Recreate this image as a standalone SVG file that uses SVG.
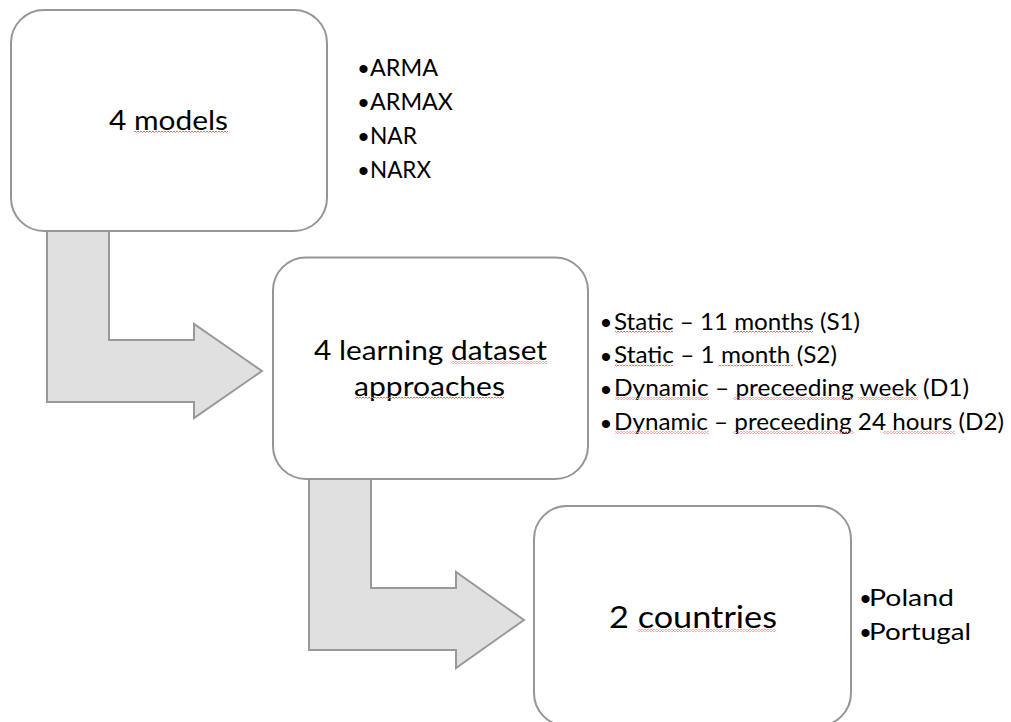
<svg xmlns="http://www.w3.org/2000/svg" width="1011" height="722" viewBox="0 0 1011 722">
  <defs>
    <!-- red wavy proofing underline -->
    <pattern id="squiggle" x="0" y="0" width="3" height="2" patternUnits="userSpaceOnUse">
      <rect x="0" y="1" width="1" height="1" fill="#ee6b6b"/>
      <rect x="1" y="0" width="1" height="1" fill="#f4a0a0"/>
      <rect x="2" y="1" width="1" height="1" fill="#ee6b6b"/>
    </pattern>
    <style>
      .box { fill: #ffffff; stroke: #969696; stroke-width: 2; }
      .arrow { fill: #e0e0e0; stroke: #999999; stroke-width: 2; stroke-linejoin: miter; }
      .title { font-family: Lato, "Liberation Sans", sans-serif; fill: #000000; }
      .item { font-family: Lato, "Liberation Sans", sans-serif; font-size: 23px; fill: #000000; }
      .bullet { font-family: "Liberation Sans", Arial, sans-serif; font-size: 30px; fill: #000000; text-anchor: middle; }
      .spell { fill: url(#squiggle); }
    </style>
  </defs>

  <!-- bent block arrows between the stages -->
  <g id="connectors">
    <polygon class="arrow" points="47,226 109,226 109,340 194,340 194,324 262,371 194,418 194,402 47,402"/>
    <polygon class="arrow" points="309,474 371,474 371,588 456,588 456,572 524,620 456,668 456,650 309,650"/>
  </g>

  <!-- stage 1 -->
  <g id="node-models">
    <rect class="box" x="11" y="10" width="316" height="221" rx="33" ry="33"/>
    <text class="title" x="109" y="130" font-size="27" textLength="119" lengthAdjust="spacingAndGlyphs">4 models</text>
    <rect class="spell" x="134" y="131" width="94" height="2"/>
  </g>
  <g id="list-models">
    <text class="bullet" x="363.5" y="79">•</text>
    <text class="item" x="370" y="76" textLength="68" lengthAdjust="spacingAndGlyphs">ARMA</text>
    <text class="bullet" x="363.5" y="113">•</text>
    <text class="item" x="370" y="110" textLength="83" lengthAdjust="spacingAndGlyphs">ARMAX</text>
    <text class="bullet" x="363.5" y="147">•</text>
    <text class="item" x="370" y="144" textLength="47" lengthAdjust="spacingAndGlyphs">NAR</text>
    <text class="bullet" x="363.5" y="181">•</text>
    <text class="item" x="370" y="178" textLength="61" lengthAdjust="spacingAndGlyphs">NARX</text>
  </g>

  <!-- stage 2 -->
  <g id="node-approaches">
    <rect class="box" x="273" y="257.5" width="315" height="221.5" rx="33" ry="33"/>
    <text class="title" x="314" y="360" font-size="27" textLength="233" lengthAdjust="spacingAndGlyphs">4 learning dataset</text>
    <text class="title" x="354" y="395.5" font-size="27" textLength="151" lengthAdjust="spacingAndGlyphs">approaches</text>
    <rect class="spell" x="451" y="361.5" width="96" height="2"/>
    <rect class="spell" x="355" y="397" width="149" height="2"/>
  </g>
  <g id="list-approaches">
    <text class="bullet" x="606" y="333">•</text>
    <text class="item" x="614" y="329.5" textLength="246" lengthAdjust="spacingAndGlyphs">Static – 11 months (S1)</text>
    <text class="bullet" x="606" y="366.5">•</text>
    <text class="item" x="614" y="363" textLength="223" lengthAdjust="spacingAndGlyphs">Static – 1 month (S2)</text>
    <text class="bullet" x="606" y="399.5">•</text>
    <text class="item" x="614" y="396" textLength="355" lengthAdjust="spacingAndGlyphs">Dynamic – preceeding week (D1)</text>
    <text class="bullet" x="606" y="433.5">•</text>
    <text class="item" x="614" y="430" textLength="390" lengthAdjust="spacingAndGlyphs">Dynamic – preceeding 24 hours (D2)</text>
    <rect class="spell" x="615" y="331" width="58" height="2"/>
    <rect class="spell" x="733" y="331" width="80" height="2"/>
    <rect class="spell" x="615" y="364.5" width="58" height="2"/>
    <rect class="spell" x="718" y="364.5" width="75" height="2"/>
    <rect class="spell" x="615" y="397.5" width="94" height="2"/>
    <rect class="spell" x="733" y="397.5" width="120" height="2"/>
    <rect class="spell" x="858" y="397.5" width="60" height="2"/>
    <rect class="spell" x="615" y="431.5" width="94" height="2"/>
    <rect class="spell" x="733" y="431.5" width="121" height="2"/>
    <rect class="spell" x="883" y="431.5" width="72" height="2"/>
  </g>

  <!-- stage 3 -->
  <g id="node-countries">
    <rect class="box" x="534" y="506" width="317" height="220" rx="33" ry="33"/>
    <text class="title" x="609" y="628" font-size="30" textLength="168" lengthAdjust="spacingAndGlyphs">2 countries</text>
    <rect class="spell" x="637" y="629.5" width="139" height="2"/>
  </g>
  <g id="list-countries">
    <text class="bullet" x="865.5" y="609">•</text>
    <text class="item" x="869" y="606" font-size="24.5" textLength="85" lengthAdjust="spacingAndGlyphs">Poland</text>
    <text class="bullet" x="865.5" y="643">•</text>
    <text class="item" x="869" y="640" font-size="24.5" textLength="102" lengthAdjust="spacingAndGlyphs">Portugal</text>
  </g>
</svg>
